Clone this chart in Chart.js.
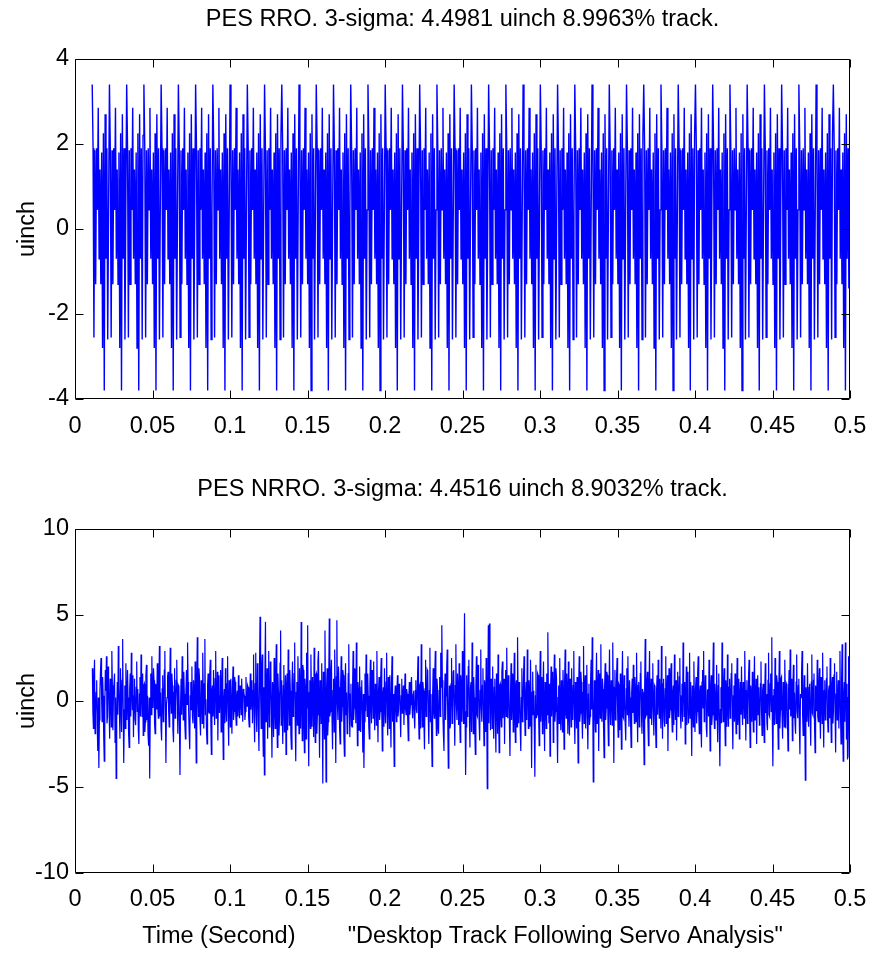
<!DOCTYPE html>
<html>
<head>
<meta charset="utf-8">
<script src="https://cdn.jsdelivr.net/npm/chart.js@4.4.0/dist/chart.umd.min.js"></script>
<style>
  html, body { margin: 0; padding: 0; background: #fff; }
  #wrap { position: relative; width: 873px; height: 957px; }
  canvas { position: absolute; left: 0; }
</style>
</head>
<body>
<div id="wrap">
  <canvas id="rroChart" width="873" height="470" style="top:0"></canvas>
  <canvas id="nrroChart" width="873" height="487" style="top:470px"></canvas>
</div>
<script>
// tick labels
var timeTicks = [0, 0.05, 0.1, 0.15, 0.2, 0.25, 0.3, 0.35, 0.4, 0.45, 0.5];
var rroTicks = [-4, -2, 0, 2, 4];
var nrroTicks = [-10, -5, 0, 5, 10];

// sampling: first sample after one revolution, fixed sample period
var rroStart = 0.0111, rroStep = 0.000556;
var nrroStart = 0.0112, nrroStep = 0.000349;

// PES RRO (uinch), one row per revolution (20 samples each)
var rroRevs = [
  [3.4, 1.9, -2.55, 1.85, -1.3, 1.9, 0.45, 2.85, -0.7, 1.4, -1.3, 1.8, -2.8, 2.25, -3.8, 2.7, -0.7, 1.9, -2.6, 0.45],
  [3.4, 1.9, -2.55, 1.85, -1.3, 1.9, 0.45, 2.85, -0.7, 1.4, -1.3, 1.8, -2.8, 2.25, -3.8, 2.7, -0.7, 1.9, -2.6, 0.45],
  [3.4, 1.9, -2.55, 1.85, -1.3, 1.9, 0.45, 2.85, -0.7, 1.4, -1.3, 1.8, -2.8, 2.25, -3.8, 2.7, -0.7, 1.9, -2.6, 2.2],
  [3.4, 1.9, -2.55, 1.85, -1.3, 1.9, 0.45, 2.85, -0.7, 1.4, -1.3, 1.8, -2.8, 2.25, -3.8, 2.7, -0.7, 1.9, -2.6, 0.45],
  [3.4, 1.9, -2.55, 1.85, -1.3, 1.9, 0.45, 2.85, -0.7, 1.4, -1.3, 1.8, -2.8, 2.25, -3.8, 2.7, -0.7, 1.9, -2.6, 0.45],
  [3.4, 1.9, -2.55, 1.85, -1.3, 1.9, 0.45, 2.85, -0.7, 1.4, -1.3, 1.8, -2.8, 2.25, -3.8, 2.7, -0.7, 1.9, -2.6, 0.45],
  [3.4, 1.9, -2.55, 1.85, -1.3, 1.9, 0.45, 2.85, -0.7, 1.4, -1.3, 1.8, -2.8, 2.25, -3.8, 2.7, -0.7, 1.9, -2.6, 0.45],
  [3.4, 1.9, -2.55, 1.85, -1.3, 1.9, 0.45, 2.85, -0.7, 1.4, -1.3, 1.8, -2.8, 2.25, -3.8, 2.7, -0.7, 1.9, -2.6, 0.45],
  [3.4, 1.9, -2.55, 1.85, -1.3, 1.9, 0.45, 2.85, -0.7, 1.4, -1.3, 1.8, -2.8, 2.25, -3.8, 2.7, -0.7, 1.9, -2.6, 0.45],
  [3.4, 1.9, -2.55, 1.85, -1.3, 1.9, 0.45, 2.85, -0.7, 1.4, -1.3, 1.8, -2.8, 2.25, -3.8, 2.7, -0.7, 1.9, -2.6, 0.45],
  [3.4, 1.9, -2.55, 1.85, -1.3, 1.9, 0.45, 2.85, -0.7, 1.4, -1.3, 1.8, -2.8, 2.25, -3.8, 2.7, -0.7, 1.9, -2.6, 2.2],
  [3.4, 1.9, -2.55, 1.85, -1.3, 1.9, 0.45, 2.85, -0.7, 1.4, -1.3, 1.8, -2.8, 2.25, -3.8, 2.7, -0.7, 1.9, -2.6, 0.45],
  [3.4, 1.9, -2.55, 1.85, -1.3, 1.9, 0.45, 2.85, -0.7, 1.4, -1.3, 1.8, -2.8, 2.25, -3.8, 2.7, -0.7, 1.9, -2.6, 0.45],
  [3.4, 1.9, -2.55, 1.85, -1.3, 1.9, 0.45, 2.85, -0.7, 1.4, -1.3, 1.8, -2.8, 2.25, -3.8, 2.7, -0.7, 1.9, -2.6, 0.45],
  [3.4, 1.9, -2.55, 1.85, -1.3, 1.9, 0.45, 2.85, -0.7, 1.4, -1.3, 1.8, -2.8, 2.25, -3.8, 2.7, -0.7, 1.9, -2.6, 0.45],
  [3.4, 1.9, -2.55, 1.85, -1.3, 1.9, 0.45, 2.85, -0.7, 1.4, -1.3, 1.8, -2.8, 2.25, -3.8, 2.7, -0.7, 1.9, -2.6, 0.45],
  [3.4, 1.9, -2.55, 1.85, -1.3, 1.9, 0.45, 2.85, -0.7, 1.4, -1.3, 1.8, -2.8, 2.25, -3.8, 2.7, -0.7, 1.9, -2.6, 0.45],
  [3.4, 1.9, -2.55, 1.85, -1.3, 1.9, 0.45, 2.85, -0.7, 1.4, -1.3, 1.8, -2.8, 2.25, -3.8, 2.7, -0.7, 1.9, -2.6, 0.45],
  [3.4, 1.9, -2.55, 1.85, -1.3, 1.9, 0.45, 2.85, -0.7, 1.4, -1.3, 1.8, -2.8, 2.25, -3.8, 2.7, -0.7, 1.9, -2.6, 0.45],
  [3.4, 1.9, -2.55, 1.85, -1.3, 1.9, 0.45, 2.85, -0.7, 1.4, -1.3, 1.8, -2.8, 2.25, -3.8, 2.7, -0.7, 1.9, -2.6, 0.45],
  [3.4, 1.9, -2.55, 1.85, -1.3, 1.9, 0.45, 2.85, -0.7, 1.4, -1.3, 1.8, -2.8, 2.25, -3.8, 2.7, -0.7, 1.9, -2.6, 0.45],
  [3.4, 1.9, -2.55, 1.85, -1.3, 1.9, 0.45, 2.85, -0.7, 1.4, -1.3, 1.8, -2.8, 2.25, -3.8, 2.7, -0.7, 1.9, -2.6, 0.45],
  [3.4, 1.9, -2.55, 1.85, -1.3, 1.9, 0.45, 2.85, -0.7, 1.4, -1.3, 1.8, -2.8, 2.25, -3.8, 2.7, -0.7, 1.9, -2.6, 0.45],
  [3.4, 1.9, -2.55, 1.85, -1.3, 1.9, 0.45, 2.85, -0.7, 1.4, -1.3, 1.8, -2.8, 2.25, -3.8, 2.7, -0.7, 1.9, -2.6, 0.45],
  [3.4, 1.9, -2.55, 1.85, -1.3, 1.9, 0.45, 2.85, -0.7, 1.4, -1.3, 1.8, -2.8, 2.25, -3.8, 2.7, -0.7, 1.9, -2.6, 0.45],
  [3.4, 1.9, -2.55, 1.85, -1.3, 1.9, 0.45, 2.85, -0.7, 1.4, -1.3, 1.8, -2.8, 2.25, -3.8, 2.7, -0.7, 1.9, -2.6, 0.45],
  [3.4, 1.9, -2.55, 1.85, -1.3, 1.9, 0.45, 2.85, -0.7, 1.4, -1.3, 1.8, -2.8, 2.25, -3.8, 2.7, -0.7, 1.9, -2.6, 0.45],
  [3.4, 1.9, -2.55, 1.85, -1.3, 1.9, 0.45, 2.85, -0.7, 1.4, -1.3, 1.8, -2.8, 2.25, -3.8, 2.7, -0.7, 1.9, -2.6, 0.45],
  [3.4, 1.9, -2.55, 1.85, -1.3, 1.9, 0.45, 2.85, -0.7, 1.4, -1.3, 1.8, -2.8, 2.25, -3.8, 2.7, -0.7, 1.9, -2.6, 0.45],
  [3.4, 1.9, -2.55, 1.85, -1.3, 1.9, 0.45, 2.85, -0.7, 1.4, -1.3, 1.8, -2.8, 2.25, -3.8, 2.7, -0.7, 1.9, -2.6, 0.45],
  [3.4, 1.9, -2.55, 1.85, -1.3, 1.9, 0.45, 2.85, -0.7, 1.4, -1.3, 1.8, -2.8, 2.25, -3.8, 2.7, -0.7, 1.9, -2.6, 0.45],
  [3.4, 1.9, -2.55, 1.85, -1.3, 1.9, 0.45, 2.85, -0.7, 1.4, -1.3, 1.8, -2.8, 2.25, -3.8, 2.7, -0.7, 1.9, -2.6, 2.2],
  [3.4, 1.9, -2.55, 1.85, -1.3, 1.9, 0.45, 2.85, -0.7, 1.4, -1.3, 1.8, -2.8, 2.25, -3.8, 2.7, -0.7, 1.9, -2.6, 0.45],
  [3.4, 1.9, -2.55, 1.85, -1.3, 1.9, 0.45, 2.85, -0.7, 1.4, -1.3, 1.8, -2.8, 2.25, -3.8, 2.7, -0.7, 1.9, -2.6, 0.45],
  [3.4, 1.9, -2.55, 1.85, -1.3, 1.9, 0.45, 2.85, -0.7, 1.4, -1.3, 1.8, -2.8, 2.25, -3.8, 2.7, -0.7, 1.9, -2.6, 2.2],
  [3.4, 1.9, -2.55, 1.85, -1.3, 1.9, 0.45, 2.85, -0.7, 1.4, -1.3, 1.8, -2.8, 2.25, -3.8, 2.7, -0.7, 1.9, -2.6, 0.45],
  [3.4, 1.9, -2.55, 1.85, -1.3, 1.9, 0.45, 2.85, -0.7, 1.4, -1.3, 1.8, -2.8, 2.25, -3.8, 2.7, -0.7, 1.9, -2.6, 0.45],
  [3.4, 1.9, -2.55, 1.85, -1.3, 1.9, 0.45, 2.85, -0.7, 1.4, -1.3, 1.8, -2.8, 2.25, -3.8, 2.7, -0.7, 1.9, -2.6, 0.45],
  [3.4, 1.9, -2.55, 1.85, -1.3, 1.9, 0.45, 2.85, -0.7, 1.4, -1.3, 1.8, -2.8, 2.25, -3.8, 2.7, -0.7, 1.9, -2.6, 0.45],
  [3.4, 1.9, -2.55, 1.85, -1.3, 1.9, 0.45, 2.85, -0.7, 1.4, -1.3, 1.8, -2.8, 2.25, -3.8, 2.7, -0.7, 1.9, -2.6, 0.45],
  [3.4, 1.9, -2.55, 1.85, -1.3, 1.9, 0.45, 2.85, -0.7, 1.4, -1.3, 1.8, -2.8, 2.25, -3.8, 2.7, -0.7, 1.9, -2.6, 0.45],
  [3.4, 1.9, -2.55, 1.85, -1.3, 1.9, 0.45, 2.85, -0.7, 1.4, -1.3, 1.8, -2.8, 2.25, -3.8, 2.7, -0.7, 1.9, -2.6, 0.45],
  [3.4, 1.9, -2.55, 1.85, -1.3, 1.9, 0.45, 2.85, -0.7, 1.4, -1.3, 1.8, -2.8, 2.25, -3.8, 2.7, -0.7, 1.9, -2.6, 2.2],
  [3.4, 1.9, -2.55, 1.85, -1.3, 1.9, 0.45, 2.85, -0.7, 1.4, -1.3, 1.8, -2.8, 2.25, -3.8, 2.7, -0.7, 1.9, -1.4, 2.7]
];

// PES NRRO (uinch), 40 samples per row
var nrroRows = [
  [1.9, -0.7, -1.6, 1.1, 2.4, -1.9, -0.8, 0.5, 1.2, -1.4, -2.9, 0.2, -3.9, -1.1, 0.6, 1.7, 2.5, 0.3, -1.2, 1.4, 0.3, -2.1, -3.5, -0.4, 1.8, 0.6, 2.6, -1.3, -0.9, 2.0, 1.5, -0.6, -2.2, 1.3, 0.8, -1.5, 2.9, 0.9, -1.7, 0.4],
  [0.4, 1.6, -2.4, 0.2, -4.5, -1.2, 1.1, -0.8, 3.2, 0.9, -0.6, -2.2, 1.9, 0.4, -1.8, 1.2, 3.6, -0.5, -3.6, -1.0, 0.9, -1.6, 2.2, 0.1, -1.1, 1.8, 0.2, -1.9, -2.7, 0.7, 1.6, -0.9, 2.8, 0.6, -0.5, 1.5, -2.1, 0.3, 1.3, -1.1],
  [-1.4, 0.8, 2.3, -0.6, 0.7, -1.7, -2.5, 0.4, 1.4, -0.9, 2.7, 0.5, -0.9, 1.6, -2.0, 0.9, 1.0, -1.8, -1.2, 1.5, 2.1, -1.1, 0.3, -2.0, -2.6, 0.2, -4.5, -0.7, 1.6, -0.8, 2.6, 0.3, -0.4, 1.9, 1.2, -1.3, -1.9, 1.0, 0.6, -0.5],
  [2.2, -0.4, -1.0, 1.3, 3.2, -0.9, 0.5, -1.6, -2.3, 0.7, 1.5, -1.2, -0.8, 1.8, 2.9, -0.5, -3.6, -0.2, 0.2, 1.4, 1.7, -0.6, -1.5, 0.8, 3.1, 0.1, -0.7, 1.6, 0.9, -1.7, -2.4, 0.5, 1.9, -1.0, -0.3, 1.2, 2.4, 0.2, -1.9, 0.9],
  [0.8, -1.5, -4.3, -0.3, 1.3, -0.8, 2.6, 0.4, -1.1, 1.7, 0.4, -1.4, -2.2, 0.6, 1.8, -0.2, 3.4, 1.1, -0.6, -1.9, -2.8, 0.3, 1.1, -0.5, 2.0, -0.9, -1.3, 1.2, 0.5, -1.6, 2.3, -0.4, -3.6, 0.8, 3.7, 0.2, -0.9, 1.9, 1.4, -1.1],
  [-2.0, 1.2, 0.6, -1.3, 2.8, 0.4, -1.6, 1.0, 3.6, -0.8, 0.1, -1.7, -2.5, 0.9, 1.6, -0.6, -0.7, 1.5, 2.4, -1.2, -3.1, 0.6, 0.9, -0.9, 1.8, -0.3, -1.4, 1.3, 2.9, -1.0, -0.2, 1.7, -2.3, 0.2, 1.5, -0.7, 0.3, 1.8, -1.8, 0.5],
  [2.5, -0.9, -3.4, 0.1, 0.7, -1.3, 1.9, -0.2, -1.2, 1.0, 2.6, -0.8, -2.6, 1.2, 0.4, -1.5, 1.3, -0.4, -1.9, 0.8, 2.0, -1.1, -0.6, 1.4, 1.1, -0.7, -1.4, 0.3, 0.6, -0.9, 1.5, -0.1, -1.0, 0.9, 0.2, -0.8, 1.3, 0.1, -1.2, 0.7],
  [0.5, 0.3, -1.1, -0.6, 1.4, 0.2, -0.3, 0.9, 0.8, -1.0, -1.5, 0.4, 1.6, -0.5, 0.1, 1.2, -1.3, 0.6, 2.7, -0.9, -2.4, 1.0, 2.8, -0.7, -1.8, 2.2, 1.0, -1.4, -2.9, 1.9, 4.9, 0.5, -1.6, 2.0, 2.7, -1.2, -3.2, 0.8, -4.3, 1.6],
  [4.6, -1.2, 0.3, 1.9, -2.2, 0.6, 2.9, -1.5, -1.0, 2.3, 1.7, -0.8, -3.3, 1.1, 0.8, -2.1, 2.5, -0.3, -1.6, 1.4, 3.3, -0.9, -2.7, 1.6, 0.5, -2.0, -0.9, 2.2, 4.1, -1.4, 1.2, -0.6, -2.5, 0.9, 2.1, -1.8, -0.7, 1.5, -3.1, 0.7],
  [1.6, -1.7, 3.0, 0.4, -1.4, 1.8, 0.6, -2.0, -2.8, 1.0, 2.3, -0.9, -0.5, 1.6, 3.4, -1.3, -3.5, 0.5, 1.1, -1.4, 2.6, 0.3, -1.9, 1.9, 0.2, -1.6, 4.6, 0.2, -2.3, 2.1, 1.8, -1.1, -3.0, 1.3, 0.7, -2.2, 2.8, -0.4, 4.4, -1.0],
  [-3.8, 0.5, 1.2, -1.6, 2.7, 0.2, -1.5, 1.4, 0.4, -2.1, 3.1, -0.7, -2.4, 1.5, 1.6, -1.9, -0.8, 2.3, 2.9, -0.4, -3.3, 1.2, 0.9, -1.3, 2.2, -0.6, -4.8, 1.7, 0.3, -2.2, 4.1, -0.3, -4.7, 0.8, 1.9, -2.0, -1.2, 1.3, 4.8, -0.9],
  [-0.6, 1.7, 2.4, -1.0, -2.8, 0.6, 1.3, -1.8, 3.0, 0.1, -3.6, 1.4, 4.7, -0.2, -1.1, 2.0, 0.8, -1.6, -2.5, 0.9, 2.6, -1.2, -0.3, 1.8, 1.5, -2.1, -3.2, 0.7, 2.2, -0.8, 0.5, -1.9, -1.7, 1.6, 3.3, -0.5, -2.1, 0.4, 1.0, -1.4],
  [-1.5, 0.7, 2.9, -1.1, -0.4, 1.9, 1.7, -1.3, 3.4, 0.2, -2.6, 1.1, 0.6, -1.7, 2.0, -0.5, -1.8, 0.8, 1.2, -0.9, -3.0, 0.4, -3.9, -1.2, 1.6, -0.6, 2.7, 0.5, -0.9, 1.6, 0.3, -1.5, -2.2, 0.9, 2.4, -0.4, -1.3, 1.8, 0.9, -1.0],
  [2.3, -0.5, -1.7, 1.0, 0.5, -1.4, 2.9, -0.3, -2.4, 0.6, 1.4, -1.1, -0.6, 1.3, 2.5, -0.7, -2.9, 0.4, 0.8, -1.5, 1.9, -0.2, -1.3, 1.1, 2.8, -0.8, -2.0, 1.4, 0.2, -1.6, 1.5, -0.4, -2.7, 1.0, 2.6, -1.2, 0.4, -1.5, -3.8, 0.3],
  [0.9, -0.4, -1.2, 0.5, 1.5, -0.9, -0.5, 1.0, 0.8, -0.6, -2.1, 0.3, 1.3, -0.7, 0.2, 0.9, -1.4, 0.1, 1.6, -0.5, -0.8, 0.7, 0.4, -1.1, -2.3, 0.2, 1.1, -0.8, -0.2, 0.9, 1.4, -0.3, -1.0, 0.4, 0.6, -0.9, -1.6, 0.6, 1.2, -0.5],
  [-0.7, 1.2, 2.6, -0.8, -2.2, 0.9, 1.0, -1.6, 3.3, 0.5, -1.5, 1.1, 0.6, -1.4, -2.8, 0.7, 2.4, -0.9, -0.3, 1.8, 1.7, -1.0, -2.5, 0.6, 3.1, -1.2, 0.4, -1.7, -3.8, 0.3, 1.9, -0.6, -1.0, 1.5, 2.9, -0.4, -2.0, 1.3, 0.8, -1.5],
  [-1.9, 0.6, 1.4, -0.9, 2.8, 0.8, 4.4, 1.2, -0.8, -2.0, -2.9, 0.4, 1.6, -1.1, 0.3, 1.9, 3.0, -1.2, -3.9, -0.5, 0.9, -1.6, -1.4, 1.0, 2.5, -1.3, -0.6, 1.7, 1.8, -0.7, -2.6, 0.9, 3.3, -0.2, -1.1, 1.6, 0.5, -1.4, 2.2, -0.8],
  [-2.4, 1.5, 0.7, -1.2, 2.9, 0.3, -1.3, 1.8, 5.1, -0.6, -4.3, -1.5, 1.5, -0.9, -0.5, 2.0, 2.4, -1.0, -2.7, 0.8, 1.1, -1.8, 3.4, 0.5, -1.9, 1.4, 0.2, -1.7, -3.1, 0.9, 2.6, -0.8, -0.9, 2.1, 1.7, -1.3, -2.3, 0.6, 3.0, -0.4],
  [-1.2, 0.9, 1.9, -0.7, -2.6, 1.2, 0.8, -1.8, 2.5, -0.4, -5.1, 0.2, 4.4, -1.3, 4.5, 1.1, -1.7, 1.3, 0.6, -1.6, 2.0, -0.5, -2.2, 0.8, 1.3, -1.1, -3.0, 1.6, 0.4, -1.9, 2.7, -0.6, -3.0, 0.9, 1.0, -0.9, -1.5, 1.7, 2.3, -1.0],
  [-0.4, 1.3, -2.5, 0.6, 1.8, -0.9, 3.1, 0.2, -1.0, 1.5, 0.9, -1.4, -3.2, 0.4, 2.2, -1.1, 0.1, 1.6, -1.8, 0.7, 2.8, -0.8, -2.4, 0.9, 1.2, -1.5, 3.7, 0.3, -1.3, 1.1, 0.5, -1.7, -2.9, 0.2, 1.9, -1.2, -0.7, 1.4, 2.6, -0.6],
  [-2.0, 0.4, 1.1, -1.1, 3.0, 0.8, -1.6, 1.2, 0.3, -1.5, 2.4, -0.3, -3.9, 0.5, 1.7, -0.8, 0.6, -1.7, -4.4, 0.3, 2.1, -1.0, -0.8, 1.6, 1.5, -0.9, -2.6, 0.7, 2.9, -1.2, -0.2, 1.4, -1.9, 0.6, 2.3, -0.5, -2.9, 1.1, 0.7, -1.6],
  [1.6, -0.8, 4.0, 0.6, -1.3, 1.0, -3.2, 0.5, 2.0, -0.9, 0.4, 1.7, -2.4, 0.3, 2.7, -1.2, -0.6, 1.9, 1.3, -1.4, -3.6, 0.2, 0.9, -1.3, 2.5, -0.5, -1.7, 1.2, -0.3, -1.8, 1.8, 0.4, -2.8, 1.1, 3.0, -0.7, -1.0, 1.6, 0.5, -1.9],
  [2.3, -0.6, -2.0, 1.3, 0.8, -1.5, 1.9, -0.2, -1.1, 0.9, 2.9, -1.0, -2.5, 1.1, 0.2, -1.6, 1.4, -0.4, -3.6, 0.8, 2.6, -1.2, -0.7, 1.7, 1.1, -0.8, -2.2, 0.5, 3.2, -1.3, 0.6, 1.5, -1.6, 0.3, 2.1, -0.9, -2.8, 0.4, 1.0, -1.4],
  [-0.9, 1.1, 2.4, -0.5, 3.7, 0.2, -4.7, -0.9, 1.2, -0.8, -1.8, 0.6, 2.8, -1.3, 0.3, 1.8, -2.9, 0.5, 1.6, -1.0, 3.3, -0.7, -1.2, 1.3, 0.7, -1.6, -3.3, 0.9, 2.2, -1.1, -0.4, 1.7, 1.5, -0.9, -2.6, 0.4, 3.0, -0.3, -1.4, 1.2],
  [0.6, -1.4, 3.4, 0.3, -3.6, 0.8, 1.8, -1.1, -0.5, 1.4, 2.5, -0.6, -2.1, 1.0, 0.9, -1.7, 1.6, -0.2, -2.8, 0.6, 2.9, -0.9, -1.0, 1.5, 0.4, -1.3, -2.3, 0.7, 1.9, -0.8, 2.6, -0.3, -1.5, 1.2, 0.2, -1.4, -2.7, 0.5, 1.3, -0.7],
  [2.1, -0.3, -1.3, 1.4, 0.7, -1.2, 2.8, -0.1, -2.4, 0.9, 1.1, -1.5, -0.6, 1.6, 2.3, -0.8, -1.9, 0.7, 0.5, -1.6, -3.7, 0.8, 3.6, -0.9, -0.8, 1.1, 1.7, -1.2, -2.6, 0.6, 2.9, -1.0, 0.1, 1.3, -1.4, 0.4, 2.2, -0.6, -2.0, 0.9],
  [0.8, -1.2, -2.7, 0.6, 1.5, -0.8, 2.4, 0.2, -1.0, 1.3, -0.2, -1.6, 3.2, 0.4, -2.2, 1.0, 1.3, -1.1, -1.5, 0.7, 2.6, -1.3, 0.3, 1.5, -2.9, -0.2, 1.9, -1.0, -0.5, 1.4, 2.2, -0.7, -1.8, 0.5, 0.9, -1.4, 2.7, 0.1, -1.1, 1.2],
  [-2.3, 0.5, 1.7, -0.9, 0.2, 1.4, 2.5, -0.7, -1.6, 0.3, 1.0, -1.2, 3.4, 0.8, -0.9, 1.1, -2.5, 0.2, 2.0, -1.4, 0.6, 1.7, -1.3, -0.5, 2.8, -1.0, 1.1, -0.6, -3.2, 0.9, 0.4, -1.5, 2.3, -0.2, -1.8, 0.7, 1.4, -1.3, -0.6, 1.6],
  [2.6, -0.8, -1.9, 0.5, 0.9, -1.3, -2.7, 1.1, 1.8, -0.4, 2.9, -1.2, -0.4, 1.5, 1.2, -1.6, -2.1, 0.6, 0.7, -0.9, 2.4, -0.3, -2.9, 0.8, 1.5, -1.4, -0.8, 1.3, 3.4, -0.7, -1.6, 1.0, 0.3, -1.1, 2.1, -0.6, -2.4, 0.9, 1.6, -1.7],
  [-3.8, -0.5, 0.8, -1.3, 3.4, 0.4, -1.2, 1.0, 1.9, -0.6, -2.6, 1.2, 0.5, -1.5, 2.7, -0.4, -1.5, 0.8, 1.3, -1.0, -0.3, 1.6, 2.2, -0.9, -2.8, 0.3, 0.9, -1.2, 1.6, -0.5, -1.9, 0.7, 2.5, -1.4, -0.7, 1.3, -2.2, 0.2, 1.1, -0.8],
  [2.0, -0.3, -1.4, 1.1, 0.6, -1.0, 2.9, 0.4, -2.3, 0.6, 1.2, -1.3, -0.6, 1.4, 2.4, -0.9, -2.7, 0.9, 0.3, -1.2, 1.7, -0.4, -1.8, 0.7, 2.6, -1.1, -0.2, 1.3, -2.5, 0.2, 1.5, -0.8, 0.8, -1.4, -1.1, 1.0, 2.3, -0.5, -2.0, 0.6],
  [1.0, -1.1, -2.4, 0.5, 2.2, -0.7, 0.4, -1.3, -1.7, 1.2, 2.8, -0.8, -0.9, 1.0, 1.6, -0.6, 3.7, -1.2, -3.8, 0.3, 0.7, -1.4, 2.5, 0.1, -1.3, 1.5, 1.1, -1.0, -2.8, 0.8, 2.9, -1.6, -0.5, 1.3, 1.4, -0.9, -2.2, 1.1, 0.6, -1.5],
  [2.4, 0.2, -1.6, 1.0, 0.9, -1.2, -2.9, 0.6, 1.8, -0.5, 3.0, -0.9, -0.7, 1.3, -2.3, 0.7, 2.1, -1.0, 0.5, -1.3, -1.9, 1.1, 2.7, -0.6, -1.0, 0.9, 1.3, -1.5, -3.1, 0.4, 0.2, 1.6, 2.9, -0.8, -2.0, 0.3, 1.5, -1.1, -4.6, 0.8],
  [0.3, -1.2, 2.2, -0.4, -1.5, 0.8, 1.0, -1.0, -2.6, 1.1, 2.7, -0.7, -0.8, 1.2, 1.6, -1.4, -3.0, 0.9, 0.6, -0.6, 2.4, -0.9, -1.2, 1.0, 1.9, -0.8, -2.2, 1.4, 0.4, -1.3, 2.8, -0.5, -2.7, 0.6, 1.2, -1.1, -0.5, 1.3, 2.0, -0.9],
  [-1.8, 0.6, 0.9, -1.0, 2.5, -0.5, -2.4, 0.9, 1.4, -1.3, -0.6, 1.5, 2.2, -0.7, -3.0, 0.4, 1.7, -1.1, 0.2, 1.2, -1.6, 0.5, 2.9, -0.8, -2.5, 1.1, 3.3, -1.6, -3.5, 0.3, 1.1, -1.2, 3.4, 0.7, -2.2, 1.0, -3.4, 0.2, 2.6, -3.3]
];

var FONT = "'Liberation Sans', Arial, Helvetica, sans-serif";
var FONT_SIZE = 23.5;

function tickText(v) {
    return String(+Number(v).toFixed(2));
}

// MATLAB-style box with inward ticks on all four sides
var axesBox = {
    id: 'axesBox',
    afterDatasetsDraw: function(chart) {
        var ctx = chart.ctx, a = chart.chartArea;
        var xs = chart.scales.x, ys = chart.scales.y;
        var L = Math.round(a.left) + 0.5, R = Math.round(a.right) - 0.5;
        var T = Math.round(a.top) + 0.5, B = Math.round(a.bottom) - 0.5;
        var len = 8;
        ctx.save();
        ctx.strokeStyle = '#000';
        ctx.lineWidth = 1;
        ctx.beginPath();
        ctx.rect(L, T, R - L, B - T);
        xs.ticks.forEach(function(t) {
            var px = Math.round(xs.getPixelForValue(t.value)) + 0.5;
            ctx.moveTo(px, B); ctx.lineTo(px, B - len);
            ctx.moveTo(px, T); ctx.lineTo(px, T + len);
        });
        ys.ticks.forEach(function(t) {
            var py = Math.round(ys.getPixelForValue(t.value)) + 0.5;
            ctx.moveTo(L, py); ctx.lineTo(L + len, py);
            ctx.moveTo(R, py); ctx.lineTo(R - len, py);
        });
        ctx.stroke();
        ctx.restore();
    }
};

function makeChart(id, titleText, rows, start, step, yTicks, xTitle, xAxisHeight, xTickPad, lineW) {
    var values = [].concat.apply([], rows);
    var points = values.map(function(v, i) { return { x: start + i * step, y: v }; });
    var ctx = document.getElementById(id).getContext('2d');
    return new Chart(ctx, {
        type: 'line',
        data: {
            datasets: [{
                data: points,
                borderColor: '#0000ff',
                borderWidth: lineW,
                pointRadius: 0,
                tension: 0,
                fill: false
            }]
        },
        options: {
            responsive: false,
            animation: false,
            parsing: false,
            normalized: true,
            devicePixelRatio: 1,
            layout: { padding: { left: 0, right: 23, top: 0, bottom: 0 } },
            plugins: {
                legend: { display: false },
                tooltip: { enabled: false },
                title: {
                    display: true,
                    text: titleText,
                    fullSize: false,
                    color: '#000',
                    font: { family: FONT, size: FONT_SIZE, weight: 'normal' },
                    padding: { top: 5.5, bottom: 25.3 }
                }
            },
            scales: {
                x: {
                    type: 'linear',
                    min: 0,
                    max: 0.5,
                    afterBuildTicks: function(s) { s.ticks = timeTicks.map(function(v) { return { value: v }; }); },
                    afterFit: function(s) { s.height = xAxisHeight; s.paddingLeft = 0; s.paddingRight = 0; },
                    grid: { display: false, drawTicks: false },
                    border: { display: false },
                    ticks: {
                        color: '#000',
                        font: { family: FONT, size: FONT_SIZE },
                        padding: xTickPad,
                        maxRotation: 0,
                        autoSkip: false,
                        callback: tickText
                    },
                    title: xTitle ? {
                        display: true,
                        text: xTitle,
                        color: '#000',
                        font: { family: FONT, size: FONT_SIZE },
                        padding: { top: 0, bottom: 6.5 }
                    } : { display: false }
                },
                y: {
                    min: yTicks[0],
                    max: yTicks[yTicks.length - 1],
                    afterBuildTicks: function(s) { s.ticks = yTicks.map(function(v) { return { value: v }; }); },
                    afterFit: function(s) { s.width = 75; },
                    grid: { display: false, drawTicks: false },
                    border: { display: false },
                    ticks: {
                        color: '#000',
                        font: { family: FONT, size: FONT_SIZE },
                        padding: 6,
                        callback: tickText
                    },
                    title: {
                        display: true,
                        text: 'uinch',
                        color: '#000',
                        font: { family: FONT, size: FONT_SIZE },
                        padding: { top: 13.5, bottom: 0 }
                    }
                }
            }
        },
        plugins: [axesBox]
    });
}

makeChart('rroChart', 'PES RRO. 3-sigma: 4.4981 uinch 8.9963% track.',
    rroRevs, rroStart, rroStep, rroTicks, null, 71, 13.4, 1.4);
makeChart('nrroChart', 'PES NRRO. 3-sigma: 4.4516 uinch 8.9032% track.',
    nrroRows, nrroStart, nrroStep, nrroTicks,
    'Time (Second)        "Desktop Track Following Servo Analysis"', 84, 12.9, 1.2);
</script>
</body>
</html>
